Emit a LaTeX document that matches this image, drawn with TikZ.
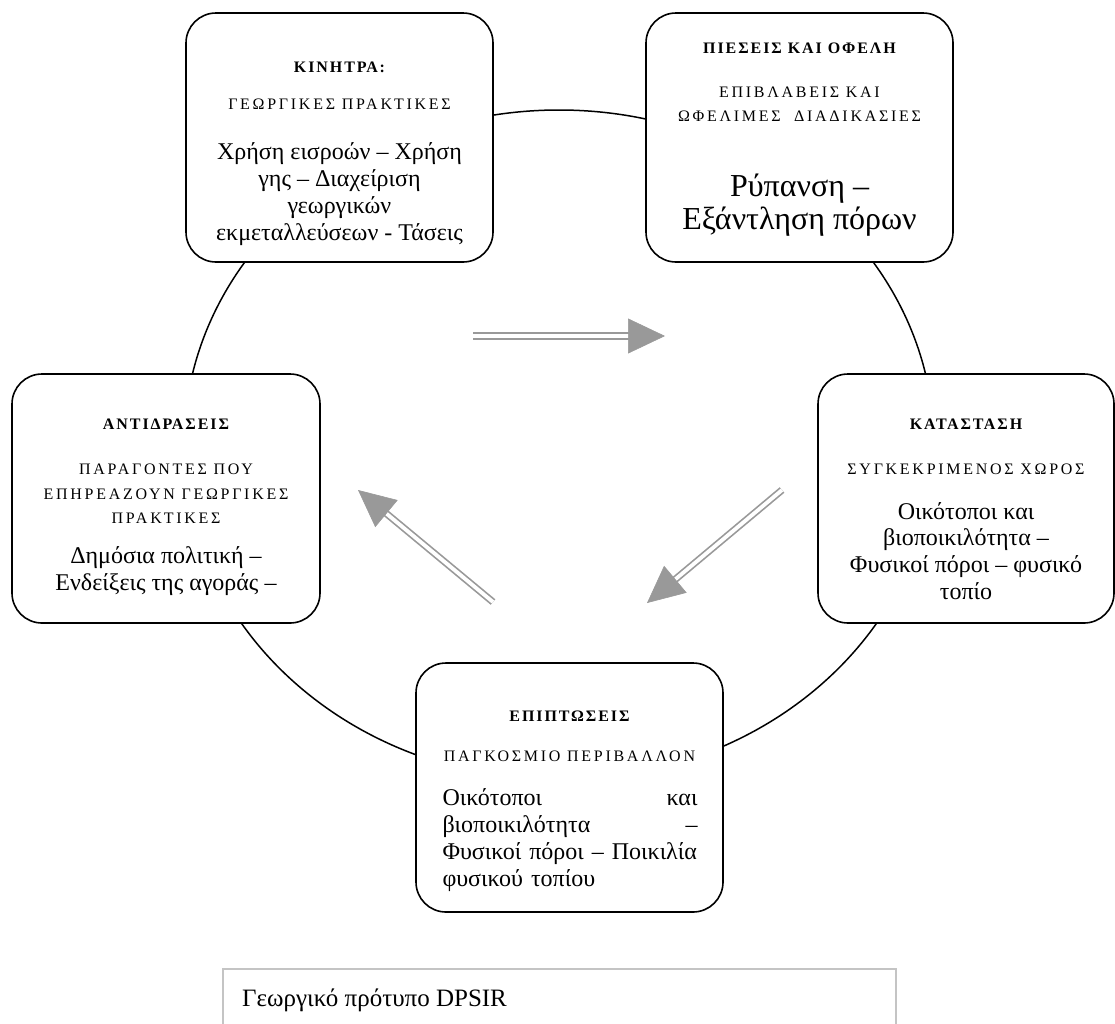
\documentclass[tikz,border=0pt]{standalone}
\usepackage{fontspec}
\setmainfont{Liberation Serif}
\newfontfamily\titlefont[LetterSpace=12]{Liberation Serif}
\newfontfamily\spacedfont[LetterSpace=17]{Liberation Serif}
\usetikzlibrary{arrows.meta}
\definecolor{arrowgray}{HTML}{999999}
\definecolor{capgray}{HTML}{C4C4C4}
\begin{document}
\begin{tikzpicture}[x=1pt,y=-1pt,
  box/.style={draw, line width=1.6pt, rounded corners=30pt, fill=white, inner sep=0pt},
  ttl/.style={inner sep=0pt, font=\titlefont\bfseries\fontsize{16}{19}\selectfont},
  sub/.style={inner sep=0pt, align=center, font=\spacedfont\fontsize{16}{24.5}\selectfont},
  body/.style={inner sep=0pt, align=center, font=\fontsize{24}{26.8}\selectfont},
  bigbody/.style={inner sep=0pt, align=center, font=\fontsize{32}{33}\selectfont},
  shaft/.style={draw=arrowgray, double=white, double distance=3.8pt, line width=1.7pt, shorten >=30pt},
  tipline/.style={white, line width=0.6pt, -{Triangle[length=37pt, width=35pt, color=arrowgray]}},
  ring/.style={draw, line width=1.5pt}
]
\useasboundingbox (0,0) rectangle (1115,1023);

% cycle
\draw[ring] (559,445) ellipse [x radius=375pt, y radius=335pt];

% boxes
\node[box, minimum width=307pt, minimum height=249pt] (drv) at (339.5,137.5) {};
\node[box, minimum width=307pt, minimum height=249pt] (prs) at (799.5,137.5) {};
\node[box, minimum width=308pt, minimum height=249pt] (rsp) at (166,498.5) {};
\node[box, minimum width=296pt, minimum height=249pt] (sta) at (966,498.5) {};
\node[box, minimum width=307pt, minimum height=249pt] (imp) at (569.5,787.5) {};

% Driving forces
\node[ttl] (drvT) at (339.5,67) {ΚΙΝΗΤΡΑ:};
\node[sub] (drvS) at (339.5,104) {ΓΕΩΡΓΙΚΕΣ ΠΡΑΚΤΙΚΕΣ};
\node[body] (drvB) at (339.5,194) {Χρήση εισροών – Χρήση\\γης – Διαχείριση\\γεωργικών\\εκμεταλλεύσεων - Τάσεις};

% Pressures
\node[ttl] (prsT) at (799.5,48) {ΠΙΕΣΕΙΣ ΚΑΙ ΟΦΕΛΗ};
\node[sub] (prsS) at (799.5,104) {ΕΠΙΒΛΑΒΕΙΣ ΚΑΙ\\ΩΦΕΛΙΜΕΣ \ ΔΙΑΔΙΚΑΣΙΕΣ};
\node[bigbody] (prsB) at (799.5,205) {Ρύπανση –\\Εξάντληση πόρων};

% Responses
\node[ttl] (rspT) at (166,424) {ΑΝΤΙΔΡΑΣΕΙΣ};
\node[sub] (rspS) at (166,494) {ΠΑΡΑΓΟΝΤΕΣ ΠΟΥ\\ΕΠΗΡΕΑΖΟΥΝ ΓΕΩΡΓΙΚΕΣ\\ΠΡΑΚΤΙΚΕΣ};
\node[body] (rspB) at (166,571) {Δημόσια πολιτική –\\Ενδείξεις της αγοράς –};

% State
\node[ttl] (staT) at (966,424) {ΚΑΤΑΣΤΑΣΗ};
\node[sub] (staS) at (966,469) {ΣΥΓΚΕΚΡΙΜΕΝΟΣ ΧΩΡΟΣ};
\node[body] (staB) at (966,551) {Οικότοποι και\\βιοποικιλότητα –\\Φυσικοί πόροι – φυσικό\\τοπίο};

% Impacts
\node[ttl] (impT) at (569.5,716) {ΕΠΙΠΤΩΣΕΙΣ};
\node[sub] (impS) at (569.5,756) {ΠΑΓΚΟΣΜΙΟ ΠΕΡΙΒΑΛΛΟΝ};
\node[inner sep=0pt, text width=255pt, align=left, font=\fontsize{24}{26.8}\selectfont] (impB) at (570,840)
  {Οικότοποι\hfill και\\βιοποικιλότητα\hfill –\\Φυσικοί πόροι – Ποικιλία\\φυσικού τοπίου};

% arrows
\coordinate (a1s) at (473,336); \coordinate (a1e) at (665,336);
\coordinate (a2s) at (782,490); \coordinate (a2e) at (647,603);
\coordinate (a3s) at (493,602); \coordinate (a3e) at (358,490);
\draw[shaft] (a1s) -- (a1e);
\draw[tipline] (a1s) -- (a1e);
\draw[shaft] (a2s) -- (a2e);
\draw[tipline] (a2s) -- (a2e);
\draw[shaft] (a3s) -- (a3e);
\draw[tipline] (a3s) -- (a3e);

% caption
\node[draw=capgray, line width=1.5pt, anchor=north west, minimum width=673pt, minimum height=80pt, inner sep=0pt] (capbox) at (222,968) {};
\node[anchor=west, inner sep=0pt, font=\fontsize{25}{30}\selectfont] (capT) at (242,1000) {Γεωργικό πρότυπο DPSIR};
\end{tikzpicture}
\end{document}
